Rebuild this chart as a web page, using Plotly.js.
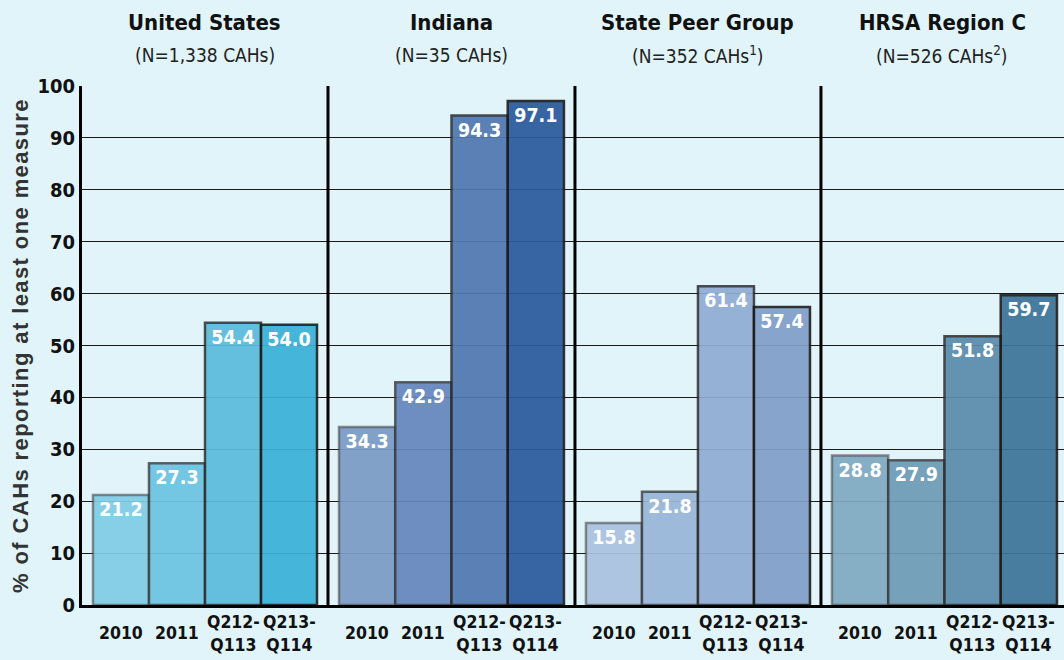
<!DOCTYPE html>
<html><head><meta charset="utf-8">
<script src="https://cdn.plot.ly/plotly-3.0.1.min.js"></script>
<style>body{margin:0;background:#e0f4f9} .ytitle{letter-spacing:1.4px}</style>
</head><body><div id="chart" style="width:1064px;height:660px"></div>
<script>
var categories = ['2010', '2011', 'Q212-<br>Q113', 'Q213-<br>Q114'];
var groupTitles = ['United States', 'Indiana', 'State Peer Group', 'HRSA Region C'];
var groupSubtitles = ['(N=1,338 CAHs)', '(N=35 CAHs)', '(N=352 CAHs<sup>1</sup>)', '(N=526 CAHs<sup>2</sup>)'];
var usValues = [21.2, 27.3, 54.4, 54.0];
var indianaValues = [34.3, 42.9, 94.3, 97.1];
var peerValues = [15.8, 21.8, 61.4, 57.4];
var hrsaValues = [28.8, 27.9, 51.8, 59.7];
var usColors = ['#80cde6', '#6cc4e1', '#5bbcde', '#3ab1d8'];
var indianaColors = ['#7b9bc6', '#6686bc', '#5078b1', '#2b5a9c'];
var peerColors = ['#aac2df', '#9ab6d9', '#90add4', '#819fc9'];
var hrsaColors = ['#80a9c1', '#6d9bb6', '#5b8cac', '#3e749a'];
var yTicks = [0, 10, 20, 30, 40, 50, 60, 70, 80, 90, 100];

var allValues = [usValues, indianaValues, peerValues, hrsaValues];
var allColors = [usColors, indianaColors, peerColors, hrsaColors];
var narrow = 'DejaVu Sans Condensed, Liberation Sans Narrow, Arial Narrow, sans-serif';
var domains = [[0, 0.2505], [0.2505, 0.502], [0.502, 0.7525], [0.7525, 1]];
var xs = ['x', 'x2', 'x3', 'x4'];
var lineCols = ['rgba(70,70,70,0.65)', 'rgba(50,50,50,0.8)', 'rgba(40,40,40,0.88)', 'rgba(25,25,25,0.95)'];

var data = [];
allValues.forEach(function (vals, g) {
  data.push({
    type: 'bar', x: categories, y: vals, width: 1,
    xaxis: xs[g], yaxis: 'y',
    marker: { color: allColors[g], opacity: 0.93, line: { color: lineCols, width: 2.5 } },
    text: vals.map(function (v) { return v.toFixed(1); }),
    textposition: 'inside', insidetextanchor: 'end',
    textfont: { family: narrow, size: 19.5, color: '#ffffff', weight: 'bold' },
    cliponaxis: false, hoverinfo: 'skip', showlegend: false
  });
});

var layout = {
  width: 1064, height: 660,
  margin: { l: 82, r: 0, t: 86, b: 55 },
  paper_bgcolor: '#e0f4f9', plot_bgcolor: '#e0f4f9',
  bargap: 0,
  uniformtext: { mode: 'show', minsize: 19 },
  yaxis: {
    range: [0, 100], tickvals: yTicks, showgrid: true, gridcolor: '#1a1a1a', gridwidth: 1,
    showline: true, linecolor: '#000', linewidth: 3, zeroline: false,
    ticks: '', ticklen: 0,
    tickfont: { family: narrow, size: 20, color: '#111', weight: 'bold' },
    title: { text: '% of CAHs reporting at least one measure', standoff: 3,
      font: { family: 'Liberation Sans, Arial, sans-serif', size: 22, color: '#333', weight: 'bold' } }
  },
  annotations: [], shapes: []
};
var ranges = [[-0.696, 3.696], [-0.696, 3.696], [-0.696, 3.696], [-0.696, 3.625]];
xs.forEach(function (xa, g) {
  var key = g === 0 ? 'xaxis' : 'xaxis' + (g + 1);
  layout[key] = {
    domain: domains[g], anchor: 'y', type: 'category', range: ranges[g],
    showline: true, linecolor: '#000', linewidth: 3, showgrid: false,
    showticklabels: false, ticks: '', fixedrange: true
  };
  categories.forEach(function (c, i) {
    layout.annotations.push({
      xref: xa, yref: 'paper', x: i, y: -0.054, xanchor: 'center', yanchor: 'middle', showarrow: false,
      text: c, align: 'center',
      font: { family: narrow, size: 17.5, color: '#111', weight: 'bold' }
    });
  });
  var mid = (domains[g][0] + domains[g][1]) / 2;
  layout.annotations.push({
    xref: 'paper', yref: 'paper', x: mid, y: 1.1233, xanchor: 'center', yanchor: 'middle', showarrow: false,
    text: groupTitles[g], font: { family: narrow, size: 22, color: '#111', weight: 'bold' }
  });
  layout.annotations.push({
    xref: 'paper', yref: 'paper', x: mid, y: 1.0597, xanchor: 'center', yanchor: 'middle', showarrow: false,
    text: groupSubtitles[g], font: { family: narrow, size: 19, color: '#222' }
  });
  if (g > 0) {
    layout.shapes.push({ type: 'line', xref: xa + ' domain', yref: 'y', x0: 0, x1: 0, y0: 0, y1: 100,
      line: { color: '#000', width: 3 } });
  }
});
Plotly.newPlot('chart', data, layout, { staticPlot: true });
</script></body></html>
